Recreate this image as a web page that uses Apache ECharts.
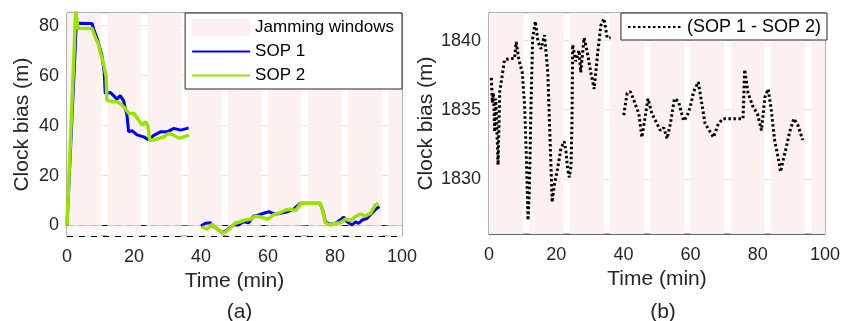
<!DOCTYPE html>
<html>
<head>
<meta charset="utf-8">
<script src="https://cdn.jsdelivr.net/npm/echarts@6/dist/echarts.min.js"></script>
<style>
  html, body { margin: 0; padding: 0; background: #fff; }
  #chart { width: 843px; height: 321px; }
</style>
</head>
<body>
<div id="chart"></div>
<script>
// jamming windows (min)
var winStart = [0, 12.05, 24, 36, 48, 59.95, 72, 83.9, 96];
var winEnd = [10.2, 22.15, 34.15, 46.1, 58.1, 69.9, 82, 94, 100];

var timeTicks = [0, 20, 40, 60, 80, 100];
var leftRange = [-4.2, 85.1];
var rightRange = [1826, 1842];

// [time (min), clock bias (m)]; null breaks the line
var sop1 = [[0,0],[0.3,0],[2.8,81],[3.0,80.9],[7.5,80.9],[7.9,78.9],[9.0,74.9],[10.4,68.2],[11.1,61.5],[11.4,52.9],
  [12.9,53.3],[13.9,52],[14.9,50.6],[15.9,52],[16.9,49.9],[17.4,47],[17.9,44.2],[18.4,37.5],[19.4,38],[20.9,36.3],
  [22.9,35.5],[24.4,34.3],[25.9,36.1],[27.9,37.5],[29.9,37.5],[31.9,38.9],[33.9,38.2],[35.9,38.9],[36.3,38.9],[38,null],
  [40.0,-0.2],[41.3,0.9],[42.8,1.1],[43.8,-0.5],[45.3,-1.8],[46.3,-2.9],[47.8,-1.8],[49.7,0.2],[51.2,0.2],[52.7,1.5],
  [54.2,1.1],[55.7,3.8],[57.2,4.2],[58.7,4.9],[60.2,5.5],[62.2,4.5],[63.7,4.9],[65.7,5.5],[67.6,6.5],[69.6,8.9],
  [75.6,8.9],[76.6,4.9],[77.1,1.5],[78.6,0.5],[80.1,0.9],[81.6,2.2],[82.6,3.3],[83.6,1.5],[85.1,0.2],[86.1,1.5],
  [87.1,0.9],[88.1,2.2],[89.6,2.9],[91.0,4.9],[92.5,6.9],[93.3,7.5]];

var sop2 = [[0,0],[0.3,0],[2.6,86],[3.3,79],[7.5,78.9],[8.4,75.5],[9.4,72.6],[9.9,69.5],[10.9,64.9],[11.7,59.5],
  [11.9,50.2],[13.4,49.6],[14.9,49.6],[15.9,48.9],[17.4,46.9],[18.4,44.9],[19.9,44.9],[21.4,42.2],[22.4,40.2],[23.4,41.5],
  [24.1,40.2],[24.7,34.2],[25.9,34.2],[27.4,34.9],[28.9,35.5],[30.4,36.9],[31.9,36.2],[33.4,34.9],[34.9,35.5],[36.4,36.2],[38,null],
  [40.3,-0.5],[41.8,-1.5],[43.3,0.5],[44.8,-1.5],[46.8,-3.1],[48.7,-1.1],[50.2,0.9],[51.7,1.5],[53.2,2.2],[54.7,2.5],
  [56.2,3.8],[58.2,3.3],[59.9,2.5],[61.5,4.2],[63.2,4.9],[65.2,6.2],[66.7,6.5],[68.2,5.9],[69.8,8.9],[75.6,8.9],
  [76.4,5.5],[77.1,1.1],[78.6,0.2],[80.1,0.9],[81.6,1.1],[83.1,2.5],[84.6,2.0],[86.1,3.5],[87.6,4.6],[89.1,3.8],
  [90.6,4.9],[92.0,8.2],[93.0,8.9]];

var sopDiff = [[0.7,1837.3],[1.0,1835.5],[1.3,1836.2],[1.5,1835],[1.7,1833.4],[2.0,1835.8],[2.3,1834],[2.7,1831.0],
  [3.2,1836.3],[3.7,1837.1],[4.6,1838.6],[6.1,1838.7],[7.6,1838.7],[8.1,1839.9],[8.9,1838.6],[9.9,1837.7],[10.6,1835.3],
  [11.1,1831.7],[11.6,1827.0],[12.0,1829.0],[12.5,1835.3],[13.0,1840.2],[13.8,1841.4],[14.6,1839.9],[15.5,1839.4],
  [16.5,1840.4],[17.0,1839.1],[17.5,1837.7],[18.0,1834.1],[18.5,1830.5],[18.8,1828.3],[19.4,1829.5],[20.4,1830.7],
  [21.4,1832.2],[22.4,1832.7],[22.9,1832.0],[23.4,1830.7],[23.9,1830.1],[24.4,1830.9],[24.7,1834.1],[24.9,1839.7],
  [25.8,1838.5],[26.8,1839.3],[27.3,1837.7],[28.3,1840.2],[29.3,1839.1],[30.3,1837.7],[31.3,1836.5],[32.3,1839.0],
  [33.3,1841.1],[34.2,1841.6],[35.2,1840.2],[36.2,1840.2],[38,null],
  [40.1,1834.6],[41.1,1836.2],[42.1,1836.3],[43.1,1835.7],[44.6,1834.7],[45.5,1833.0],[46.5,1834.5],[47.3,1835.8],
  [48.5,1834.7],[50.0,1834.0],[51.0,1833.5],[52.0,1833.7],[53.0,1832.9],[54.0,1834.0],[55.2,1835.8],[56.4,1835.6],
  [57.9,1834.2],[58.9,1834.5],[59.9,1835.2],[60.9,1836.3],[62.3,1837.0],[63.3,1835.5],[64.3,1834.0],[65.8,1833.4],
  [66.8,1833.0],[68.3,1834.0],[69.7,1834.35],[75.6,1834.35],[76.1,1837.9],[77.1,1836.2],[78.6,1835.2],[79.9,1834.7],
  [81.1,1833.5],[82.1,1835.9],[83.1,1836.5],[84.0,1835.0],[85.0,1832.8],[86.0,1831.6],[86.8,1830.5],[87.5,1831.3],
  [88.5,1832.3],[89.5,1833.4],[90.7,1834.35],[91.9,1833.9],[93.4,1832.8]];

var FONT = 'Liberation Sans, Arial, sans-serif';
var TXT = '#262626';
var PINK = '#fdf0f0';
var PINK_LIGHT = '#fdf8f8';

function windowAreas(y0, y1) {
    var out = [];
    for (var i = 0; i < winStart.length; i++) {
        out.push([{xAxis: winStart[i], yAxis: y0}, {xAxis: winEnd[i], yAxis: y1}]);
    }
    return out;
}

function xAxisFor(idx) {
    return {
        gridIndex: idx, type: 'value', min: timeTicks[0], max: timeTicks[timeTicks.length - 1], interval: 20,
        name: 'Time (min)', nameLocation: 'middle', nameGap: 33,
        nameTextStyle: {fontFamily: FONT, fontSize: 21, color: TXT},
        axisLine: {lineStyle: {color: '#666'}},
        axisTick: {show: false},
        axisLabel: {fontFamily: FONT, fontSize: 18, color: TXT, margin: 12},
        splitLine: {show: false}
    };
}

function yAxisFor(idx, range, splitNum, gap) {
    return {
        gridIndex: idx, type: 'value', min: range[0], max: range[1], splitNumber: splitNum,
        name: 'Clock bias (m)', nameLocation: 'middle', nameGap: gap,
        nameTextStyle: {fontFamily: FONT, fontSize: 21, color: TXT},
        axisLine: {show: true, lineStyle: {color: '#444'}},
        axisTick: {show: false},
        axisLabel: {fontFamily: FONT, fontSize: 18, color: TXT, margin: 8, showMinLabel: false, showMaxLabel: false,
            formatter: function (v) { return String(v); }},
        splitLine: {show: true, lineStyle: {color: '#e6e6e6'}}
    };
}

var chart = echarts.init(document.getElementById('chart'));

var option = {
    animation: false,
    backgroundColor: '#fff',
    title: [
        {text: '(a)', left: 234.5, top: 297, textAlign: 'center',
         textStyle: {fontFamily: FONT, fontSize: 21, fontWeight: 'normal', color: TXT}},
        {text: '(b)', left: 658, top: 297, textAlign: 'center',
         textStyle: {fontFamily: FONT, fontSize: 21, fontWeight: 'normal', color: TXT}}
    ],
    grid: [
        {left: 67, top: 13, width: 335, height: 223, show: true, borderColor: '#666', borderWidth: 1, backgroundColor: 'transparent'},
        {left: 489, top: 13, width: 338, height: 221, show: true, borderColor: '#666', borderWidth: 1, backgroundColor: 'transparent'}
    ],
    xAxis: [xAxisFor(0), xAxisFor(1)],
    yAxis: [yAxisFor(0, leftRange, 5, 34), yAxisFor(1, rightRange, 3, 45)],
    legend: [
        {
            orient: 'vertical', right: 441, top: 13,
            data: [{name: 'Jamming windows', icon: 'rect', itemStyle: {opacity: 1}}, 'SOP 1', 'SOP 2'],
            backgroundColor: '#fff', borderColor: '#262626', borderWidth: 1,
            padding: [6, 8, 5, 6], itemWidth: 58, itemHeight: 17, itemGap: 7,
            itemStyle: {opacity: 0},
            textStyle: {fontFamily: FONT, fontSize: 17, color: '#000'},
            selectedMode: false
        },
        {
            orient: 'vertical', right: 16, top: 13,
            data: ['(SOP 1 - SOP 2)'],
            backgroundColor: '#fff', borderColor: '#262626', borderWidth: 1,
            padding: [5, 6, 4, 6], itemWidth: 54, itemHeight: 14,
            itemStyle: {opacity: 0},
            textStyle: {fontFamily: FONT, fontSize: 18, color: '#000'},
            selectedMode: false
        }
    ],
    series: [
        // dashed reference lines (mostly hidden under the windows)
        {
            type: 'line', xAxisIndex: 0, yAxisIndex: 0, data: [], z: 1, silent: true,
            markLine: {
                z: 1, silent: true, symbol: 'none', label: {show: false},
                lineStyle: {color: '#000', type: [6, 6], width: 1},
                data: [{yAxis: 0}, {yAxis: leftRange[0]}]
            }
        },
        {
            name: 'Jamming windows', type: 'line', xAxisIndex: 0, yAxisIndex: 0, data: [], z: 2, silent: true,
            itemStyle: {color: PINK},
            markArea: {z: 2, silent: true, itemStyle: {color: PINK}, data: windowAreas(0, leftRange[1])}
        },
        {
            name: 'below zero', type: 'line', xAxisIndex: 0, yAxisIndex: 0, data: [], z: 2, silent: true,
            markArea: {z: 2, silent: true, itemStyle: {color: PINK_LIGHT}, data: windowAreas(leftRange[0], 0)}
        },
        {
            name: 'Jamming windows', type: 'line', xAxisIndex: 1, yAxisIndex: 1, data: [], z: 2, silent: true,
            itemStyle: {color: PINK},
            markArea: {z: 2, silent: true, itemStyle: {color: PINK}, data: windowAreas(rightRange[0], rightRange[1])}
        },
        {
            name: 'SOP 1', type: 'line', xAxisIndex: 0, yAxisIndex: 0, data: sop1, z: 3,
            symbol: 'none', color: '#0000ff', lineStyle: {color: '#0000ff', width: 3}
        },
        {
            name: 'SOP 2', type: 'line', xAxisIndex: 0, yAxisIndex: 0, data: sop2, z: 4,
            symbol: 'none', color: '#9be300', lineStyle: {color: '#9be300', width: 3.5}
        },
        {
            name: '(SOP 1 - SOP 2)', type: 'line', xAxisIndex: 1, yAxisIndex: 1, data: sopDiff, z: 3,
            symbol: 'none', color: '#000', lineStyle: {color: '#000', width: 3, type: [2.5, 2.5]}
        }
    ]
};

chart.setOption(option);
</script>
</body>
</html>
